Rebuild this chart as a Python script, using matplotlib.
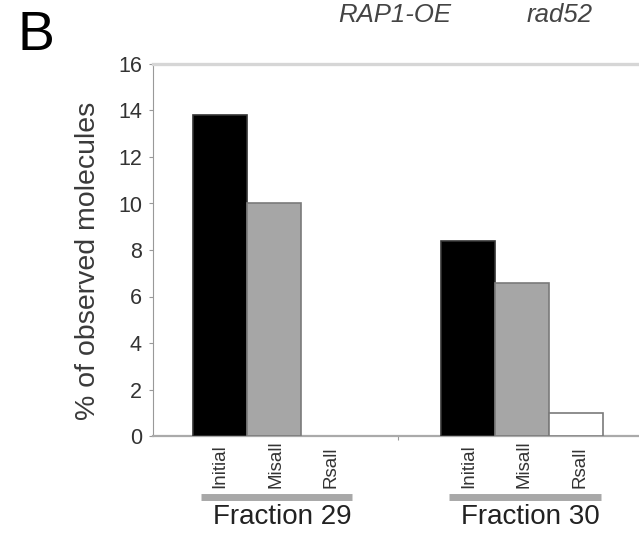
import matplotlib
matplotlib.use('Agg')
import matplotlib.pyplot as plt
import matplotlib.transforms as mtransforms

plt.rcParams['font.family'] = ['Liberation Sans', 'DejaVu Sans']

# data
groups = ['Fraction 29', 'Fraction 30']
categories = ['Initial', 'Misall', 'Rsall']
values_f29 = [13.8, 10.0, 0.0]
values_f30 = [8.4, 6.6, 1.0]
yticks = [0, 2, 4, 6, 8, 10, 12, 14, 16]

bar_colors = ['black', '#a6a6a6', 'white']
edge_colors = ['#333333', '#7a7a7a', '#7a7a7a']
group_start = [0.0, 4.6]

fig = plt.figure(figsize=(6.39, 5.38), dpi=100)
ax = fig.add_axes([153 / 639, (538 - 436) / 538, 486 / 639, 372 / 538])

for g, vals in enumerate([values_f29, values_f30]):
    xs = [group_start[g] + i for i in range(len(categories))]
    for x, v, c, ec in zip(xs, vals, bar_colors, edge_colors):
        if v > 0:
            ax.bar(x, v, width=1.0, color=c, edgecolor=ec, linewidth=1.2, zorder=3)

ax.set_xlim(-1.24, 7.76)
ax.set_ylim(0, 16)
ax.set_yticks(yticks)
ax.set_yticklabels([str(t) for t in yticks], fontsize=15.5, color='#333333')
ax.set_xticks([3.3])
ax.set_xticklabels([''])
ax.tick_params(axis='y', length=3, width=0.8, color='#999999', pad=5)
ax.tick_params(axis='x', length=3, width=0.8, color='#999999')

ax.spines['right'].set_visible(False)
ax.spines['left'].set_color('#999999')
ax.spines['left'].set_linewidth(0.8)
ax.spines['bottom'].set_color('#aaaaaa')
ax.spines['bottom'].set_linewidth(1.6)
ax.spines['top'].set_color('#d6d6d6')
ax.spines['top'].set_linewidth(2.4)

ax.set_ylabel('% of observed molecules', fontsize=20.5, color='#3a3a3a')
ax.yaxis.set_label_coords(-0.108, 0.47)

# category labels, group underline and group names below the axis
trans = mtransforms.blended_transform_factory(ax.transData, fig.transFigure)
for g, name in enumerate(groups):
    for i, cat in enumerate(categories):
        ax.text(group_start[g] + i + 0.03 * i, 1 - 488 / 538, cat, transform=trans,
                rotation=90, ha='center', va='bottom', fontsize=13.5, color='#333333')
    x0 = group_start[g] - 0.35
    x1 = group_start[g] + 2.45
    ax.plot([x0, x1], [1 - 497 / 538] * 2, transform=trans, color='#a8a8a8',
            linewidth=5, solid_capstyle='butt', clip_on=False)
    ax.text(group_start[g] + 1.15, 1 - 517 / 538, name, transform=trans,
            ha='center', va='center', fontsize=20, color='#222222')

fig.text(17 / 639, 1 - 10 / 538, 'B', fontsize=40, ha='left', va='top')
fig.text(395 / 639, 1 - 15 / 538, 'RAP1-OE', fontsize=18.5, style='italic',
         ha='center', va='center', color='#444444')
fig.text(560 / 639, 1 - 15 / 538, 'rad52', fontsize=18.5, style='italic',
         ha='center', va='center', color='#444444')

fig.savefig('out.png', dpi=100)
